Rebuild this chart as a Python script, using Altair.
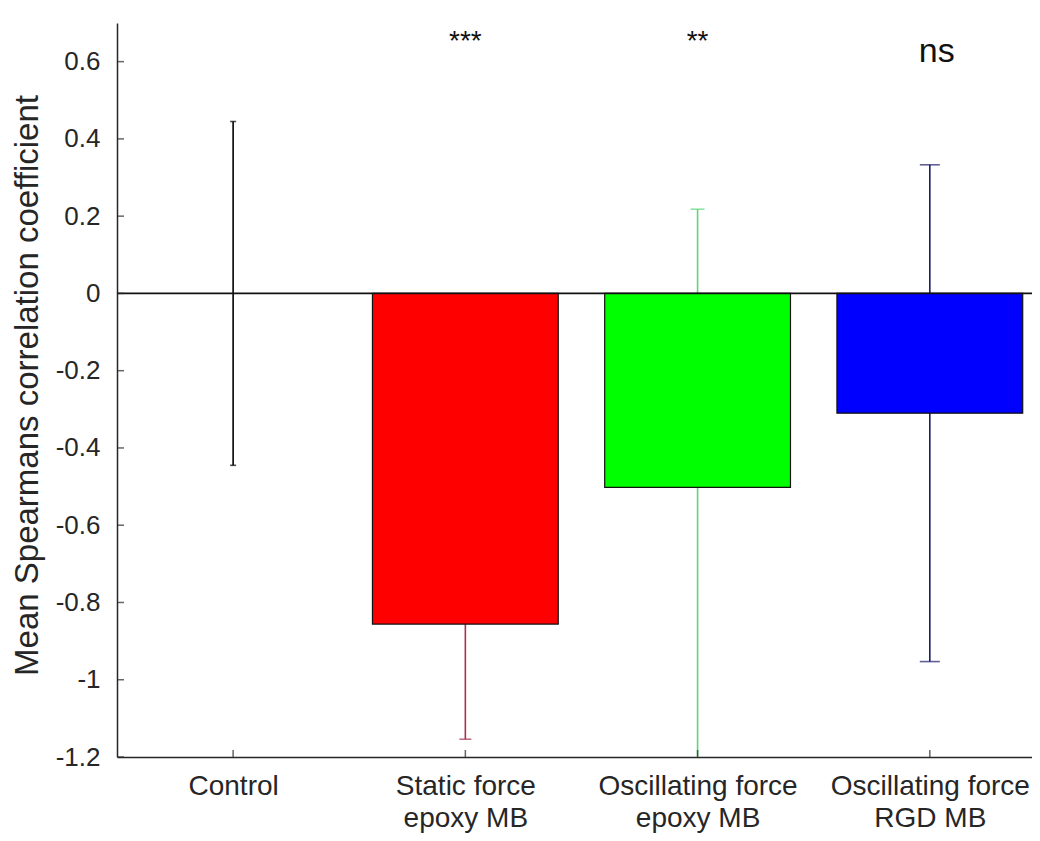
import altair as alt
import pandas as pd

# ---- data ----
categories = ["Control", "Static force|epoxy MB", "Oscillating force|epoxy MB", "Oscillating force|RGD MB"]
positions = [1, 2, 3, 4]
means = [0.0, -0.856, -0.502, -0.31]
errors = [0.445, 0.298, 0.72, 0.643]
bar_colors = ["#ffffff", "#ff0000", "#00ff00", "#0000ff"]
err_colors = ["#000000", "#a8324f", "#5fd67a", "#1c1c66"]
cap_widths = [6, 12, 14, 20]
sig_labels = ["", "***", "**", "ns"]
sig_x = [1, 2, 3.0, 4.03]
sig_y = [0.6, 0.63, 0.63, 0.6]
sig_sizes = [24, 28, 28, 34]
y_ticks = [-1.2, -1.0, -0.8, -0.6, -0.4, -0.2, 0.0, 0.2, 0.4, 0.6]
y_title = "Mean Spearmans correlation coefficient"

df = pd.DataFrame({
    "pos": positions,
    "mean": means,
    "err": errors,
    "fill": bar_colors,
    "ecol": err_colors,
    "capw": cap_widths,
    "sig": sig_labels,
    "sigx": sig_x,
    "sigy": sig_y,
    "sigsize": sig_sizes,
})
df["lo"] = df["mean"] - df["err"]
df["hi"] = df["mean"] + df["err"]
df["left"] = df["pos"] - 0.4
df["right"] = df["pos"] + 0.4
df["base"] = 0.0

caps = pd.concat([
    df[["pos", "lo", "ecol", "capw"]].rename(columns={"lo": "yv"}),
    df[["pos", "hi", "ecol", "capw"]].rename(columns={"hi": "yv"}),
])

FONT = "Liberation Sans"
TXT = "#262626"

xs = alt.Scale(domain=[0.5, 4.44], nice=False, zero=False)
ys = alt.Scale(domain=[-1.2, 0.7], nice=False, zero=False)

label_arr = "[" + ",".join("'" + c + "'" for c in [""] + categories) + "]"
xaxis = alt.Axis(
    values=positions,
    labelExpr="split(" + label_arr + "[datum.value], '|')",
    ticks=False, tickSize=0, grid=False, title=None,
    labelPadding=15, labelFontSize=28, labelFont=FONT, labelColor=TXT,
    labelLineHeight=32, labelAngle=0, labelLimit=0,
    domainColor=TXT, domainWidth=1.5,
)
yaxis = alt.Axis(
    values=y_ticks,
    labelExpr="'' + datum.value",
    ticks=False, tickSize=0, grid=False,
    title=y_title, titleFont=FONT, titleFontSize=33, titleFontWeight="normal",
    titleColor=TXT, titleX=-80, titleY=362, titleAngle=-90,
    titleBaseline="alphabetic", titleAlign="center", titleLimit=0,
    labelPadding=17, labelFontSize=26, labelFont=FONT, labelColor=TXT,
    domainColor=TXT, domainWidth=1.5,
)


def X(f):
    return alt.X(f, type="quantitative", scale=xs, axis=xaxis)


def Y(f):
    return alt.Y(f, type="quantitative", scale=ys, axis=yaxis)


base = alt.Chart(df)

err_lines = base.mark_rule(strokeWidth=1.6, clip=True).encode(
    x=X("pos"), y=Y("lo"), y2="hi", color=alt.Color("ecol:N", scale=None)
)

err_caps = alt.Chart(caps).mark_tick(orient="horizontal", thickness=1.6, clip=True).encode(
    x=X("pos"), y=Y("yv"), color=alt.Color("ecol:N", scale=None),
    size=alt.Size("capw:Q", scale=None),
)

bars = base.transform_filter("datum.mean != 0").mark_rect(stroke="#111111", strokeWidth=1.2).encode(
    x=X("left"), x2="right", y=Y("base"), y2="mean",
    color=alt.Color("fill:N", scale=None),
)

zero_line = alt.Chart(pd.DataFrame({"z": [0.0]})).mark_rule(color="#111111", strokeWidth=1.6).encode(
    y=Y("z")
)

ytick_df = pd.DataFrame({"yv": y_ticks, "xv": [0.5] * len(y_ticks)})
yticks_in = alt.Chart(ytick_df).mark_tick(orient="horizontal", size=14, thickness=1.5, color=TXT, clip=True).encode(
    x=X("xv"), y=Y("yv")
)
xtick_df = pd.DataFrame({"xv": positions, "yv": [-1.2] * len(positions)})
xticks_in = alt.Chart(xtick_df).mark_tick(orient="vertical", size=14, thickness=1.5, color=TXT, clip=True).encode(
    x=X("xv"), y=Y("yv")
)

sig_text = base.mark_text(
    font=FONT, color="#111111", baseline="alphabetic", align="center"
).encode(
    x=X("sigx"), y=Y("sigy"), text="sig:N", size=alt.Size("sigsize:Q", scale=None)
)

chart = alt.layer(
    err_lines, err_caps, bars, zero_line, yticks_in, xticks_in, sig_text
).properties(
    width=915, height=734,
    autosize=alt.AutoSizeParams(type="none"),
    padding={"left": 109, "top": 15, "right": 0, "bottom": 76},
    background="white",
).configure_view(stroke=None)

chart.save("out.html", embed_options={"renderer": "svg", "actions": False})
